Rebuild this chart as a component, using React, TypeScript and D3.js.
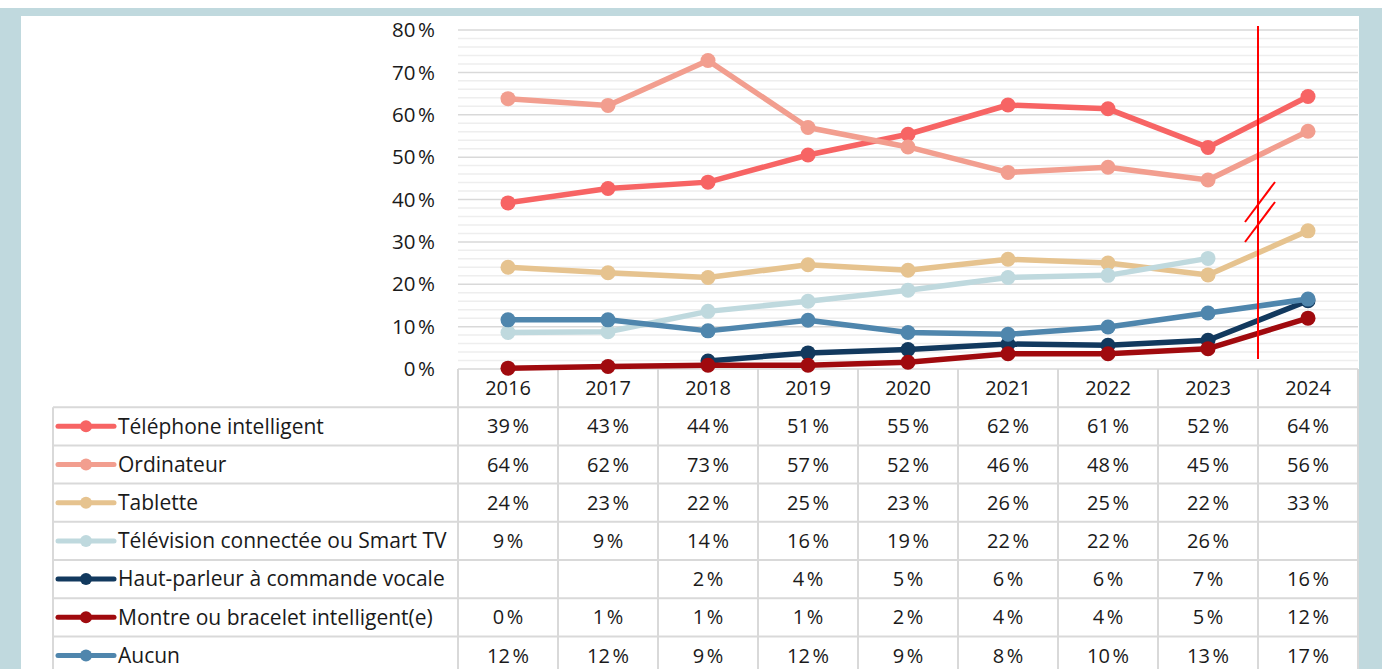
import { useRef, useEffect } from "react";
import * as d3 from "d3";

const years = ["2016", "2017", "2018", "2019", "2020", "2021", "2022", "2023", "2024"];

const seriesNames = [
  "Téléphone intelligent",
  "Ordinateur",
  "Tablette",
  "Télévision connectée ou Smart TV",
  "Haut-parleur à commande vocale",
  "Montre ou bracelet intelligent(e)",
  "Aucun",
];

const telephone = [39.2, 42.6, 44.1, 50.5, 55.4, 62.3, 61.4, 52.3, 64.3];
const ordinateur = [63.8, 62.2, 72.8, 57.0, 52.4, 46.4, 47.6, 44.6, 56.1];
const tablette = [24.0, 22.7, 21.6, 24.6, 23.3, 25.9, 25.0, 22.2, 32.6];
const television = [8.6, 8.8, 13.6, 16.0, 18.6, 21.6, 22.1, 26.1, null];
const hautParleur = [null, null, 1.9, 3.8, 4.6, 5.9, 5.6, 6.8, 16.1];
const montre = [0.2, 0.6, 0.9, 0.9, 1.6, 3.6, 3.6, 4.8, 12.0];
const aucun = [11.6, 11.6, 9.0, 11.5, 8.6, 8.2, 9.9, 13.2, 16.5];

const seriesValues: (number | null)[][] = [telephone, ordinateur, tablette, television, hautParleur, montre, aucun];
const colors = ["#f76464", "#f29e8f", "#e6c38f", "#bfd9de", "#12395e", "#a00a0e", "#4f86ad"];

const yTicks = [0, 10, 20, 30, 40, 50, 60, 70, 80];
const NB = "\u202F";

const W = 1382;
const H = 669;
const FONT = "'Open Sans', 'Noto Sans', sans-serif";
const INK = "#1a1a1a";

export default function App() {
  const svgRef = useRef<SVGSVGElement>(null);

  useEffect(() => {
    const svg = d3.select(svgRef.current);
    svg.selectAll("*").remove();

    const x = d3.scaleBand<string>().domain(years).range([458, 1358]).padding(0);
    const cx = (yr: string) => (x(yr) as number) + x.bandwidth() / 2;
    const y = d3.scaleLinear().domain([0, 80]).range([369, 30]);

    // background
    svg.append("rect").attr("width", W).attr("height", H).attr("fill", "#fff");
    svg.append("rect").attr("x", 0).attr("y", 8).attr("width", W).attr("height", H - 8).attr("fill", "#c0d9de");
    svg.append("rect").attr("x", 21).attr("y", 16).attr("width", 1338).attr("height", H - 16).attr("fill", "#fff");

    // minor gridlines
    const minor = d3.range(2, 80, 2).filter((v) => v % 10 !== 0);
    svg
      .append("g")
      .selectAll("line")
      .data(minor)
      .join("line")
      .attr("x1", 458)
      .attr("x2", 1358)
      .attr("y1", (d) => y(d))
      .attr("y2", (d) => y(d))
      .attr("stroke", "#eeeeee")
      .attr("stroke-width", 1.5);

    svg
      .append("g")
      .selectAll("line")
      .data(yTicks)
      .join("line")
      .attr("x1", 458)
      .attr("x2", 1358)
      .attr("y1", (d) => y(d))
      .attr("y2", (d) => y(d))
      .attr("stroke", "#d9d9d9")
      .attr("stroke-width", 1.5);

    svg
      .append("g")
      .selectAll("text")
      .data(yTicks)
      .join("text")
      .attr("x", 435)
      .attr("y", (d) => y(d))
      .attr("dy", "0.35em")
      .attr("text-anchor", "end")
      .attr("font-family", FONT)
      .attr("font-size", 20.5)
      .attr("fill", INK)
      .text((d) => `${d}${NB}%`);

    // table
    const headerTop = y(0);
    const rowH = 38.2;
    const firstRow = headerTop + rowH;
    const grid = svg.append("g").attr("stroke", "#d9d9d9").attr("stroke-width", 2);
    const bounds = years.map((yr) => x(yr) as number).concat([1358]);
    grid
      .selectAll("line.v")
      .data(bounds)
      .join("line")
      .attr("class", "v")
      .attr("x1", (d) => d)
      .attr("x2", (d) => d)
      .attr("y1", headerTop)
      .attr("y2", H);
    grid
      .append("line")
      .attr("x1", 53)
      .attr("x2", 53)
      .attr("y1", firstRow)
      .attr("y2", H);
    grid
      .selectAll("line.h")
      .data(d3.range(seriesNames.length))
      .join("line")
      .attr("class", "h")
      .attr("x1", 53)
      .attr("x2", 1358)
      .attr("y1", (i) => firstRow + i * rowH)
      .attr("y2", (i) => firstRow + i * rowH);

    svg
      .append("g")
      .selectAll("text")
      .data(years)
      .join("text")
      .attr("x", (d) => cx(d))
      .attr("y", headerTop + rowH / 2)
      .attr("dy", "0.35em")
      .attr("text-anchor", "middle")
      .attr("font-family", FONT)
      .attr("font-size", 20)
      .attr("fill", INK)
      .text((d) => d);

    seriesNames.forEach((name, i) => {
      const rowY = firstRow + i * rowH + rowH / 2;
      const g = svg.append("g");
      g.append("line")
        .attr("x1", 58)
        .attr("x2", 114)
        .attr("y1", rowY)
        .attr("y2", rowY)
        .attr("stroke", colors[i])
        .attr("stroke-width", 5)
        .attr("stroke-linecap", "round");
      g.append("circle").attr("cx", 86).attr("cy", rowY).attr("r", 6).attr("fill", colors[i]);
      g.append("text")
        .attr("x", 118)
        .attr("y", rowY)
        .attr("dy", "0.35em")
        .attr("font-family", FONT)
        .attr("font-size", 21)
        .attr("fill", INK)
        .text(name);
      g.selectAll("text.val")
        .data(seriesValues[i].map((v, j) => ({ v, yr: years[j] })).filter((d) => d.v != null))
        .join("text")
        .attr("class", "val")
        .attr("x", (d) => cx(d.yr))
        .attr("y", rowY)
        .attr("dy", "0.35em")
        .attr("text-anchor", "middle")
        .attr("font-family", FONT)
        .attr("font-size", 20)
        .attr("fill", INK)
        .text((d) => `${Math.round(d.v as number)}${NB}%`);
    });

    // lines
    const lineGen = d3
      .line<{ v: number | null; yr: string }>()
      .defined((d) => d.v != null)
      .x((d) => cx(d.yr))
      .y((d) => y(d.v as number));

    seriesValues.forEach((vals, i) => {
      const pts = vals.map((v, j) => ({ v, yr: years[j] }));
      const g = svg.append("g");
      g.append("path")
        .attr("d", lineGen(pts))
        .attr("fill", "none")
        .attr("stroke", colors[i])
        .attr("stroke-width", 5.5)
        .attr("stroke-linejoin", "round");
      g.selectAll("circle")
        .data(pts.filter((d) => d.v != null))
        .join("circle")
        .attr("cx", (d) => cx(d.yr))
        .attr("cy", (d) => y(d.v as number))
        .attr("r", 7.5)
        .attr("fill", colors[i]);
    });

    // break marker
    const bx = x("2024") as number;
    svg
      .append("line")
      .attr("x1", bx)
      .attr("x2", bx)
      .attr("y1", 26)
      .attr("y2", 359)
      .attr("stroke", "#ff0000")
      .attr("stroke-width", 2);
    [0, 20].forEach((off) => {
      svg
        .append("line")
        .attr("x1", bx - 13)
        .attr("x2", bx + 17)
        .attr("y1", 222 + off)
        .attr("y2", 182 + off)
        .attr("stroke", "#ff0000")
        .attr("stroke-width", 2);
    });
  }, []);

  return (
    <svg
      ref={svgRef}
      width={W}
      height={H}
      style={{ position: "absolute", left: 0, top: 0, display: "block" }}
    />
  );
}
